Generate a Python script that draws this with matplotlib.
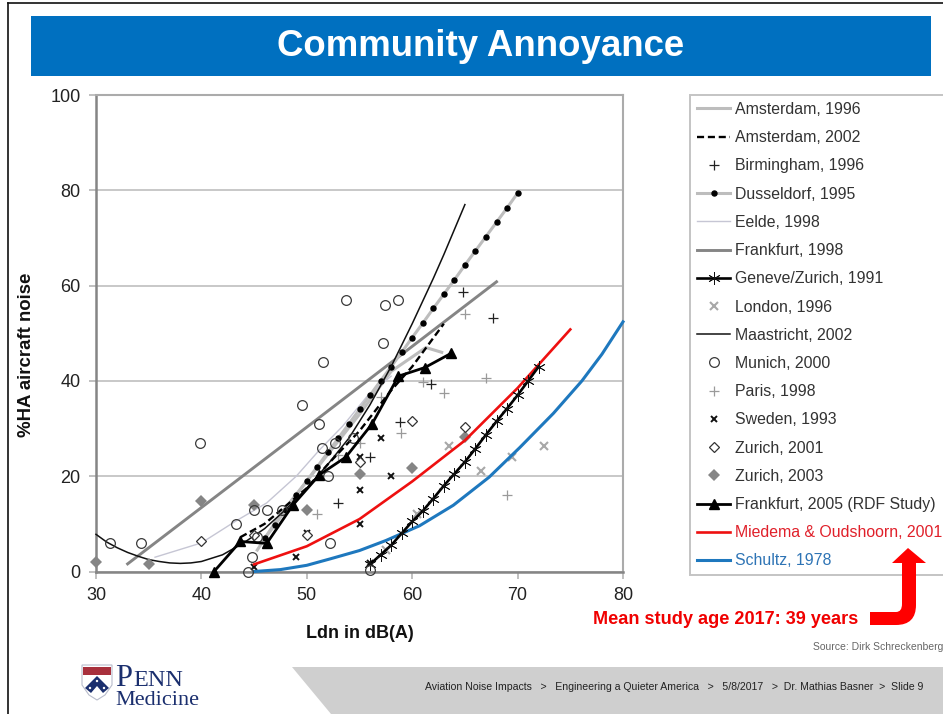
import matplotlib
matplotlib.use("Agg")
import matplotlib.pyplot as plt
from matplotlib.patches import Polygon, Rectangle, PathPatch, Circle
from matplotlib.path import Path

SANS = "Liberation Sans"
SERIF = "Liberation Serif"
plt.rcParams["font.family"] = SANS

title = "Community Annoyance"
x_label = "Ldn in dB(A)"
y_label = "%HA aircraft noise"
x_ticks = [30, 40, 50, 60, 70, 80]
y_ticks = [0, 20, 40, 60, 80, 100]

ams96_x = [45.3, 47.5, 50, 55, 58, 61.3, 62.8]
ams96_y = [4.5, 12, 19, 33, 42, 47, 46]
ams02_x = [43.7, 46, 50, 52, 55, 58, 60, 63]
ams02_y = [7.2, 10, 17.5, 22.5, 29.5, 38, 43, 52]
birm_x = [53, 56, 58.8, 61.8, 64.8, 67.7]
birm_y = [14.3, 24, 31.3, 39.3, 58.7, 53.3]
dus_x = [46, 47, 48, 49, 50, 51, 52, 53, 54, 55, 56, 57, 58, 59, 60, 61, 62, 63, 64, 65, 66, 67, 68, 69, 70]
dus_y = [7, 9.8, 13, 16, 19, 22, 25, 28, 31, 34, 37, 40, 43, 46, 49.1, 52.1, 55.2, 58.2, 61.2, 64.3, 67.3, 70.3, 73.3, 76.3, 79.4]
eelde_x = [35.6, 40, 43.2, 46.2, 49, 51.2, 53.4, 55.7, 58]
eelde_y = [3, 6, 10.5, 14.4, 20, 25.5, 30.5, 36.7, 41]
fra98_x = [33, 50, 68]
fra98_y = [1.6, 30.3, 60.8]
gen_x = [56, 57, 58, 59, 60, 61, 62, 63, 64, 65, 66, 67, 68, 69, 70, 71, 72]
gen_y = [1.5, 3.5, 5.5, 8, 10.5, 12.7, 15.3, 18, 20.5, 23, 25.8, 28.7, 31.5, 34.2, 37, 40, 43]
lon_x = [57.5, 60.5, 63.5, 66.5, 69.5, 72.5]
lon_y = [4.5, 12, 26.3, 21, 24, 26.3]
maa_x = [30, 31, 32, 33, 34, 35, 36, 37, 38, 39, 40, 42, 44, 46, 48, 50, 52, 54, 56, 58, 60, 62, 63, 65]
maa_y = [7.8, 6.2, 5, 4, 3.2, 2.5, 2.1, 1.8, 1.7, 1.8, 2.1, 3.5, 6, 9, 13, 17.5, 22.5, 28, 35, 43, 52, 61.5, 66.5, 77]
mun_x = [31.3, 34.3, 39.9, 43.3, 44.4, 44.8, 45, 46.2, 47.6, 45.3, 49.5, 51.2, 51.5, 51.4, 52, 52.2, 52.7, 53.7, 54.4, 57.2, 57.4, 58.7, 56]
mun_y = [5.9, 5.9, 27, 10, 0, 3.1, 12.9, 12.9, 12.9, 7.2, 35, 31, 44, 26, 20, 6, 27, 57, 28, 48, 56, 57, 0.3]
par_x = [51, 53, 55, 57, 58.9, 61, 63, 65, 67, 69]
par_y = [12, 24.4, 27, 36.7, 29, 39.8, 37.4, 54, 40.7, 16]
swe_x = [45, 49, 50, 55, 55, 55, 56, 57, 58]
swe_y = [1, 3, 8, 24, 17, 10, 1.8, 28, 20]
zu01_x = [40, 45, 50, 55, 60, 65]
zu01_y = [6.4, 7.7, 7.7, 23, 31.6, 30.3]
zu03_x = [30, 35, 40, 45, 50, 55, 60, 65]
zu03_y = [2, 1.5, 14.7, 14, 13, 20.5, 21.8, 28.3]
fra05_x = [41.2, 43.7, 46.2, 48.7, 51.2, 53.7, 56.2, 58.7, 61.2, 63.7]
fra05_y = [0, 6.3, 5.9, 14, 20.3, 24, 31, 41, 42.8, 45.8]
mie_x = [45, 50, 55, 60, 65, 70, 75]
mie_y = [1.5, 5.3, 11, 18.9, 27.5, 38.5, 50.8]
sch_x = [45, 47.5, 50, 52.3, 55, 57.5, 60.7, 63.9, 67.3, 70.2, 73.4, 76.1, 78, 80]
sch_y = [0, 0.4, 1.3, 2.7, 4.4, 6.5, 9.6, 13.9, 19.8, 26, 33.2, 40, 45.6, 52.4]

W, H = 943, 714
fig = plt.figure(figsize=(W / 100, H / 100), dpi=100, facecolor="white")

bg = fig.add_axes([0, 0, 1, 1], zorder=0)
bg.set_xlim(0, W)
bg.set_ylim(H, 0)
bg.axis("off")
bg.add_patch(Rectangle((31, 16), 900, 60, fc="#0070C0", ec="none"))
bg.text(481, 46, title, color="white", fontsize=26.4, fontweight="bold", ha="center", va="center")
bg.plot([7.5, 7.5], [H, 3], color="#111111", lw=1.2)
bg.plot([7.5, W], [3, 3], color="#111111", lw=1.2)
bg.add_patch(Polygon([(292, 667), (W, 667), (W, H), (331, H)], fc="#CFCFCF", ec="none"))
bg.text(425, 687.5, "Aviation Noise Impacts   >   Engineering a Quieter America   >   5/8/2017   >  Dr. Mathias Basner  >  Slide 9",
        fontsize=7.57, color="#222222", va="center", ha="left")
bg.text(943, 647, "Source: Dirk Schreckenberg", fontsize=7.5, color="#666666", va="center", ha="right")
bg.text(593, 620, "Mean study age 2017: 39 years", fontsize=13.1, fontweight="bold", color="#F00000", va="center", ha="left")
bg.text(27, 355, y_label, fontsize=13.4, fontweight="bold", color="#111111", rotation=90, va="center", ha="center")

# Penn logo
NAVY = "#1B2F6E"
bg.add_patch(Polygon([(82, 665), (112, 665), (112, 685), (105, 695), (97, 700), (89, 695), (82, 685)],
                     fc="white", ec="#B8BCCB", lw=0.8))
bg.add_patch(Rectangle((83, 667), 28, 8, fc="#A8303C", ec="none"))
bg.add_patch(Polygon([(97, 676), (109, 688), (103, 693), (97, 686), (91, 693), (85, 688)], fc=NAVY, ec="none"))
for cx, cy in [(97, 681), (90, 688), (104, 688)]:
    bg.add_patch(Circle((cx, cy), 1.2, fc="white", ec="none"))
bg.text(115, 686, "P", family=SERIF, fontsize=22, color=NAVY, va="baseline", ha="left")
bg.text(133, 686, "ENN", family=SERIF, fontsize=17.5, color=NAVY, va="baseline", ha="left")
bg.text(115, 705, "Medicine", family=SERIF, fontsize=16, color=NAVY, va="baseline", ha="left")

ax = fig.add_axes([96 / W, 1 - 571.5 / H, (623 - 96) / W, (571.5 - 95) / H], zorder=2)
ax.patch.set_alpha(0)
ax.set_xlim(30, 80)
ax.set_ylim(0, 100)
ax.set_xticks(x_ticks)
ax.set_yticks(y_ticks)
ax.grid(axis="y", color="#C8C8C8", lw=1.4, zorder=0)
ax.set_axisbelow(True)
for side, col, lw in [("left", "#858585", 1.8), ("bottom", "#858585", 1.8), ("right", "#ABABAB", 1.5), ("top", "#ABABAB", 1.5)]:
    ax.spines[side].set_color(col)
    ax.spines[side].set_linewidth(lw)
ax.tick_params(axis="both", labelsize=13, labelcolor="#222222", color="#B5B5B5", width=1.2, length=5, pad=6)
ax.set_xlabel(x_label, fontsize=13, fontweight="bold", color="#111111", labelpad=15)


def draw(x, y, label, **kw):
    return ax.plot(x, y, label=label, clip_on=False, **kw)[0]


h = [
    draw(ams96_x, ams96_y, "Amsterdam, 1996", color="#BDBDBD", lw=2.2, zorder=3),
    draw(ams02_x, ams02_y, "Amsterdam, 2002", color="black", lw=1.7, ls=(0, (3, 1.6)), zorder=6),
    draw(birm_x, birm_y, "Birmingham, 1996", ls="none", marker="+", color="#222222", ms=6.5, mew=0.9, zorder=5),
    draw(dus_x, dus_y, "Dusseldorf, 1995", color="#BDBDBD", lw=2.2, marker="o", mfc="black", mec="black", ms=3.6, zorder=4),
    draw(eelde_x, eelde_y, "Eelde, 1998", color="#C6C6D4", lw=1.0, zorder=3),
    draw(fra98_x, fra98_y, "Frankfurt, 1998", color="#858585", lw=2.1, zorder=3),
    draw(gen_x, gen_y, "Geneve/Zurich, 1991", color="black", lw=1.9, marker=(6, 2, 0), mec="#111111", ms=9, mew=0.6, zorder=6),
    draw(lon_x, lon_y, "London, 1996", ls="none", marker="x", color="#A8A8A8", ms=5.8, mew=1.5, zorder=4),
    draw(maa_x, maa_y, "Maastricht, 2002", color="#111111", lw=1.1, zorder=5),
    draw(mun_x, mun_y, "Munich, 2000", ls="none", marker="o", mfc="none", mec="#3A3A3A", ms=7, mew=0.9, zorder=7),
    draw(par_x, par_y, "Paris, 1998", ls="none", marker="+", color="#9A9A9A", ms=6.5, mew=0.9, zorder=4),
    draw(swe_x, swe_y, "Sweden, 1993", ls="none", marker="x", color="#111111", ms=4.8, mew=1.4, zorder=5),
    draw(zu01_x, zu01_y, "Zurich, 2001", ls="none", marker="D", mfc="white", mec="#333333", ms=5.5, mew=0.9, zorder=6),
    draw(zu03_x, zu03_y, "Zurich, 2003", ls="none", marker="D", color="#858585", ms=6, mew=0, zorder=5),
    draw(fra05_x, fra05_y, "Frankfurt, 2005 (RDF Study)", color="black", lw=2.0, marker="^", ms=7.5, zorder=7),
    draw(mie_x, mie_y, "Miedema & Oudshoorn, 2001", color="#EE1010", lw=1.9, zorder=5),
    draw(sch_x, sch_y, "Schultz, 1978", color="#1E78BE", lw=2.2, zorder=5),
]

leg = fig.legend(handles=h, loc="upper left", bbox_to_anchor=(690 / W, 1 - 95 / H), bbox_transform=fig.transFigure,
                 fontsize=11.4, frameon=True, fancybox=False, edgecolor="#C4C4C4", facecolor="white", framealpha=1,
                 borderaxespad=0, borderpad=0.44, labelspacing=0.835, handlelength=2.1, handletextpad=0.28,
                 numpoints=1)
leg.get_frame().set_linewidth(1.4)
for t in leg.get_texts():
    t.set_color("#333333")
leg.get_texts()[15].set_color("#E0202A")
leg.get_texts()[16].set_color("#2E74B5")

top = fig.add_axes([0, 0, 1, 1], zorder=10)
top.set_xlim(0, W)
top.set_ylim(H, 0)
top.axis("off")
arrow = Path(
    [(870, 612), (896, 612), (902, 612), (902, 604), (902, 563), (892, 563), (908, 548), (926, 563), (916, 563),
     (916, 605), (916, 625), (896, 625), (870, 625), (870, 612)],
    [Path.MOVETO, Path.LINETO, Path.CURVE3, Path.CURVE3, Path.LINETO, Path.LINETO, Path.LINETO, Path.LINETO, Path.LINETO,
     Path.LINETO, Path.CURVE3, Path.CURVE3, Path.LINETO, Path.CLOSEPOLY])
top.add_patch(PathPatch(arrow, fc="#FF0000", ec="none"))

fig.savefig("out.png", dpi=100)
